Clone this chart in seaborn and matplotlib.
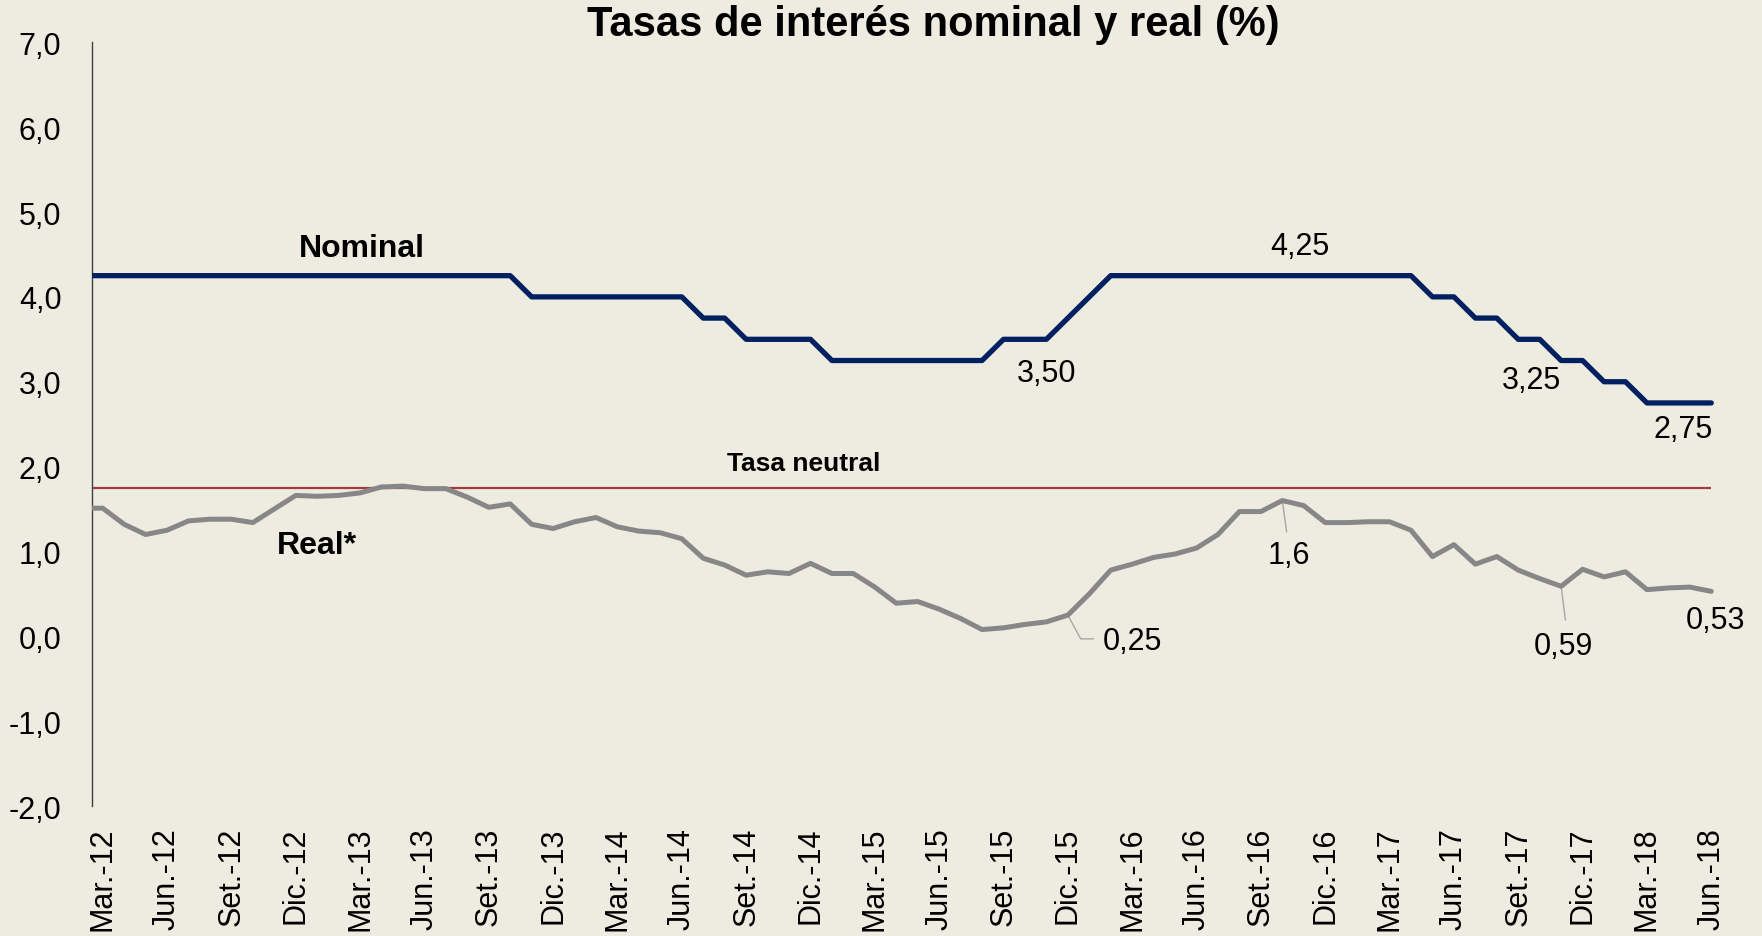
import numpy as np
import pandas as pd
import matplotlib
matplotlib.use('Agg')
import matplotlib.pyplot as plt
from matplotlib.ticker import FuncFormatter
import seaborn as sns

# Datos mensuales Feb.-12 a Jun.-18 (Feb.-12 queda recortado por el eje)
nominal = [4.25] * 21 + [4.00] * 8 + [3.75] * 2 + [3.50] * 4 + [3.25] * 8 + \
          [3.50] * 3 + [3.75, 4.00] + [4.25] * 15 + [4.00, 4.00, 3.75, 3.75,
          3.50, 3.50, 3.25, 3.25, 3.00, 3.00, 2.75, 2.75, 2.75, 2.75]
real = [1.51, 1.51, 1.32, 1.20, 1.25, 1.36, 1.38, 1.38, 1.34, 1.50, 1.66, 1.65,
        1.66, 1.69, 1.76, 1.77, 1.74, 1.74, 1.64, 1.52, 1.56, 1.32, 1.27, 1.35,
        1.40, 1.29, 1.24, 1.22, 1.15, 0.92, 0.84, 0.72, 0.76, 0.74, 0.86, 0.74,
        0.74, 0.58, 0.39, 0.41, 0.32, 0.21, 0.08, 0.10, 0.14, 0.17, 0.25, 0.50,
        0.78, 0.85, 0.93, 0.97, 1.04, 1.20, 1.47, 1.47, 1.60, 1.54, 1.34, 1.34,
        1.35, 1.35, 1.25, 0.94, 1.08, 0.85, 0.94, 0.78, 0.68, 0.59, 0.79, 0.70,
        0.76, 0.55, 0.57, 0.58, 0.53]
tasa_neutral = 1.75

tick_labels = ['Mar.-12', 'Jun.-12', 'Set.-12', 'Dic.-12', 'Mar.-13', 'Jun.-13',
               'Set.-13', 'Dic.-13', 'Mar.-14', 'Jun.-14', 'Set.-14', 'Dic.-14',
               'Mar.-15', 'Jun.-15', 'Set.-15', 'Dic.-15', 'Mar.-16', 'Jun.-16',
               'Set.-16', 'Dic.-16', 'Mar.-17', 'Jun.-17', 'Set.-17', 'Dic.-17',
               'Mar.-18', 'Jun.-18']

# etiquetas de valores: (texto, x, y)  -- x en meses desde Mar.-12
etiquetas = [('4,25', 55.8, 4.60), ('3,50', 44.0, 3.10), ('3,25', 66.6, 3.02),
             ('2,75', 73.7, 2.44), ('1,6', 55.3, 0.96), ('0,25', 48.0, -0.05),
             ('0,59', 68.1, -0.11), ('0,53', 75.2, 0.19)]

# mes 0 = Mar.-12, el primer dato (Feb.-12) es el mes -1
df = pd.DataFrame({'mes': np.arange(len(nominal)) - 1, 'Nominal': nominal, 'Real': real})
n_meses = len(nominal) - 1

bg = '#EEECE1'
sns.set_style('white', {'axes.facecolor': bg, 'figure.facecolor': bg})
plt.rcParams['font.family'] = ['Liberation Sans', 'DejaVu Sans']
plt.rcParams['text.color'] = 'black'
plt.rcParams['xtick.color'] = 'black'
plt.rcParams['ytick.color'] = 'black'

fig = plt.figure(figsize=(17.62, 9.37), dpi=100)
ax = fig.add_axes([0.0522, 0.1387, 0.9251, 0.8151])

ax.hlines(tasa_neutral, -0.5, n_meses - 1, color='#A33B3B', lw=1.6, zorder=2)
sns.lineplot(data=df, x='mes', y='Nominal', color='#002060', lw=3.8, ax=ax, zorder=3)
sns.lineplot(data=df, x='mes', y='Real', color='#878787', lw=3.6, ax=ax, zorder=3)

ax.set_xlim(-0.5, n_meses - 0.5)
ax.set_ylim(-2, 7)
ax.set_yticks(np.arange(-2, 8, 1))
ax.yaxis.set_major_formatter(FuncFormatter(lambda v, p: f'{v:.1f}'.replace('.', ',')))
ax.set_xticks(np.arange(0, n_meses, 3))
ax.set_xticklabels(tick_labels, rotation=90)
ax.tick_params(axis='y', length=0, pad=22, labelsize=22)
ax.tick_params(axis='x', length=0, pad=15, labelsize=22)
ax.set_xlabel('')
ax.set_ylabel('')
for s in ['top', 'right', 'bottom']:
    ax.spines[s].set_visible(False)
ax.spines['left'].set_color('#404040')
ax.spines['left'].set_linewidth(1.0)

# textos
ax.text(12.1, 4.58, 'Nominal', fontsize=23, fontweight='bold', ha='center', va='center')
ax.text(10.0, 1.08, 'Real*', fontsize=23, fontweight='bold', ha='center', va='center')
ax.text(32.7, 2.04, 'Tasa neutral', fontsize=19, fontweight='bold', ha='center', va='center')
for txt, x, y in etiquetas:
    ax.text(x, y, txt, fontsize=22, ha='center', va='center')

# líneas guía
lc = '#A6A6A6'
r = dict(zip(df['mes'], df['Real']))
ax.plot([55, 55.2], [r[55], 1.23], color=lc, lw=1)
ax.plot([45, 45.6, 46.2], [r[45], -0.03, -0.03], color=lc, lw=1)
ax.plot([68, 68.2], [r[68], 0.19], color=lc, lw=1)

fig.text(0.5295, 0.973, 'Tasas de interés nominal y real (%)', fontsize=30,
         fontweight='bold', ha='center', va='center')

fig.savefig('out.png', dpi=100, facecolor=bg)
